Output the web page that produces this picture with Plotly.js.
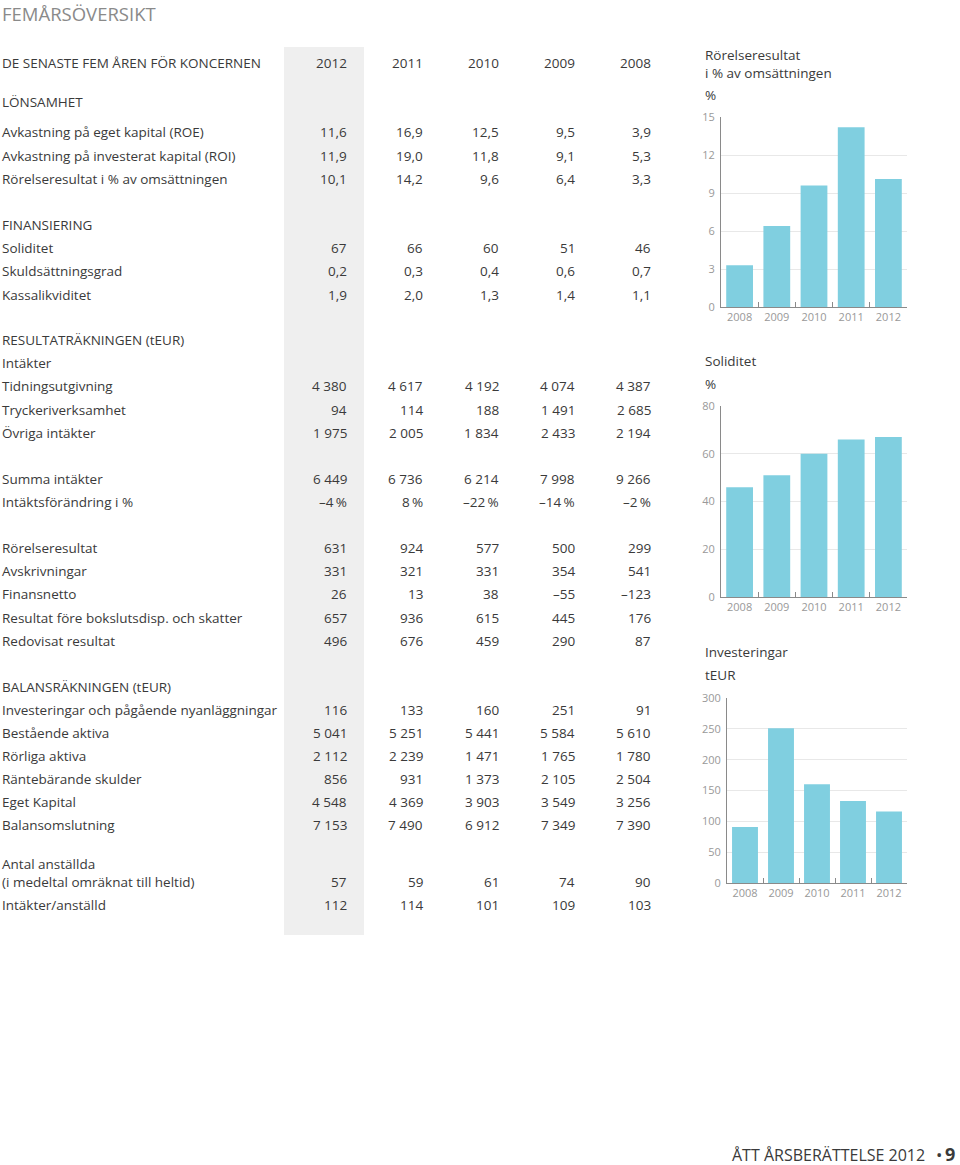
<!DOCTYPE html>
<html><head><meta charset="utf-8">
<script src="https://cdn.plot.ly/plotly-3.0.1.min.js"></script>
<style>html,body{margin:0;padding:0;background:#fff}#c{width:960px;height:1165px}</style>
</head><body><div id="c"></div>
<script>
// ---------- DATA ----------
const tableYears = ['2012','2011','2010','2009','2008'];

const lonsamhetLabels = ['Avkastning på eget kapital (ROE)','Avkastning på investerat kapital (ROI)','Rörelseresultat i % av omsättningen'];
const lonsamhetValues = [['11,6','16,9','12,5','9,5','3,9'],['11,9','19,0','11,8','9,1','5,3'],['10,1','14,2','9,6','6,4','3,3']];

const finansLabels = ['Soliditet','Skuldsättningsgrad','Kassalikviditet'];
const finansValues = [['67','66','60','51','46'],['0,2','0,3','0,4','0,6','0,7'],['1,9','2,0','1,3','1,4','1,1']];

const intaktLabels = ['Tidningsutgivning','Tryckeriverksamhet','Övriga intäkter'];
const intaktValues = [['4 380','4 617','4 192','4 074','4 387'],['94','114','188','1 491','2 685'],['1 975','2 005','1 834','2 433','2 194']];

const summaLabels = ['Summa intäkter','Intäktsförändring i %'];
const summaValues = [['6 449','6 736','6 214','7 998','9 266'],['–4\u2009%','8\u2009%','–22\u2009%','–14\u2009%','–2\u2009%']];

const resultatLabels = ['Rörelseresultat','Avskrivningar','Finansnetto','Resultat före bokslutsdisp. och skatter','Redovisat resultat'];
const resultatValues = [['631','924','577','500','299'],['331','321','331','354','541'],['26','13','38','–55','–123'],['657','936','615','445','176'],['496','676','459','290','87']];

const balansLabels = ['Investeringar och pågående nyanläggningar','Bestående aktiva','Rörliga aktiva','Räntebärande skulder','Eget Kapital','Balansomslutning'];
const balansValues = [['116','133','160','251','91'],['5 041','5 251','5 441','5 584','5 610'],['2 112','2 239','1 471','1 765','1 780'],['856','931','1 373','2 105','2 504'],['4 548','4 369','3 903','3 549','3 256'],['7 153','7 490','6 912','7 349','7 390']];

const personalLabels = ['(i medeltal omräknat till heltid)','Intäkter/anställd'];
const personalValues = [['57','59','61','74','90'],['112','114','101','109','103']];

const chartYears = ['2008','2009','2010','2011','2012'];
const rorelseresultatPct = [3.3, 6.4, 9.6, 14.2, 10.1];
const soliditetPct = [46, 51, 60, 66, 67];
const investeringarTeur = [91, 251, 160, 133, 116];

// ---------- LAYOUT HELPERS ----------
const W = 960, H = 1165;
const FONT = 'Open Sans, Noto Sans, DejaVu Sans, sans-serif';
const TXT = '#3a3a3a';
const px = x => x / W;
const py = y => 1 - y / H;
const colX = [349, 425, 501, 577, 653];
const ann = [];
function text(t, x, y, opts = {}) {
  ann.push(Object.assign({
    text: t, xref: 'paper', yref: 'paper', x: px(x), y: py(y),
    xanchor: 'left', yanchor: 'middle', showarrow: false,
    font: {family: FONT, size: 13.5, color: TXT}
  }, opts));
}
function row(label, values, y) {
  if (label !== null) text(label, 0, y);
  if (values) values.forEach((v, i) => text(v, colX[i], y, {xanchor: 'right'}));
}
function block(labels, values, ys) {
  labels.forEach((l, i) => row(l, values[i], ys[i]));
}

// title
text('FEMÅRSÖVERSIKT', 0, 14, {font: {family: FONT, size: 18.5, color: '#8a8a8a'}});
// header
row('DE SENASTE FEM ÅREN FÖR KONCERNEN', tableYears, 63);
text('LÖNSAMHET', 0, 102);
block(lonsamhetLabels, lonsamhetValues, [132, 156, 179]);
text('FINANSIERING', 0, 225);
block(finansLabels, finansValues, [248, 271, 295]);
text('RESULTATRÄKNINGEN (tEUR)', 0, 340);
text('Intäkter', 0, 363);
block(intaktLabels, intaktValues, [386, 410, 433]);
block(summaLabels, summaValues, [479, 502]);
block(resultatLabels, resultatValues, [548, 571, 594, 618, 641]);
text('BALANSRÄKNINGEN (tEUR)', 0, 687);
block(balansLabels, balansValues, [710, 733, 756, 779, 802, 825]);
text('Antal anställda', 0, 864);
block(personalLabels, personalValues, [882, 905]);

// chart titles
text('Rörelseresultat', 703, 55);
text('i % av omsättningen', 703, 73);
text('%', 703, 95);
text('Soliditet', 703, 361);
text('%', 703, 384);
text('Investeringar', 703, 652);
text('tEUR', 703, 675);

// footer
text('ÅTT ÅRSBERÄTTELSE 2012', 927, 1155, {xanchor: 'right', font: {family: FONT, size: 16, color: '#3a3a3a'}});
text('•', 939, 1154, {xanchor: 'center', borderpad: 0, font: {family: FONT, size: 17, color: '#3a3a3a'}});
text('<b>9</b>', 950, 1154, {xanchor: 'center', borderpad: 0, font: {family: FONT, size: 18, color: '#3a3a3a'}});

// ---------- CHARTS ----------
const BAR = '#80cfe0';
function bar(y, xa, ya) {
  return {type: 'bar', x: chartYears, y: y, xaxis: xa, yaxis: ya,
    marker: {color: BAR, line: {width: 0}}, hoverinfo: 'skip'};
}
const data = [
  bar(rorelseresultatPct, 'x', 'y'),
  bar(soliditetPct, 'x2', 'y2'),
  bar(investeringarTeur, 'x3', 'y3')
];
function xax(x0, x1, anchor) {
  return {domain: [px(x0), px(x1)], anchor: anchor, type: 'category',
    categoryorder: 'array', categoryarray: chartYears,
    showline: true, linecolor: '#8a8a8a', linewidth: 1,
    ticks: 'inside', tickson: 'boundaries', ticklen: 5, tickcolor: '#8a8a8a', tickwidth: 1,
    showgrid: false, zeroline: false, fixedrange: true,
    tickfont: {family: FONT, size: 11, color: '#999'}};
}
function yax(top, bottom, range, dtick, anchor) {
  return {domain: [py(bottom), py(top)], anchor: anchor, range: range, dtick: dtick,
    showline: true, linecolor: '#8a8a8a', linewidth: 1, ticks: '',
    showgrid: true, gridcolor: '#e8e8e8', gridwidth: 1, zeroline: false, fixedrange: true,
    ticklabelstandoff: 3,
    tickfont: {family: FONT, size: 11, color: '#999'}};
}

const layout = {
  width: W, height: H, margin: {l: 0, r: 0, t: 0, b: 0},
  paper_bgcolor: '#fff', plot_bgcolor: 'rgba(0,0,0,0)',
  showlegend: false, bargap: 0.28, font: {family: FONT},
  xaxis: xax(721, 907, 'y'),
  yaxis: yax(117, 307, [0, 15], 3, 'x'),
  xaxis2: xax(721, 907, 'y2'),
  yaxis2: yax(406, 597, [0, 80], 20, 'x2'),
  xaxis3: xax(727, 907, 'y3'),
  yaxis3: yax(698, 883, [0, 300], 50, 'x3'),
  shapes: [{type: 'rect', xref: 'paper', yref: 'paper', x0: px(284), x1: px(364), y0: py(935), y1: py(47),
    fillcolor: '#efefef', line: {width: 0}, layer: 'below'}],
  annotations: ann
};
Plotly.newPlot('c', data, layout, {staticPlot: true, displayModeBar: false});
</script></body></html>
